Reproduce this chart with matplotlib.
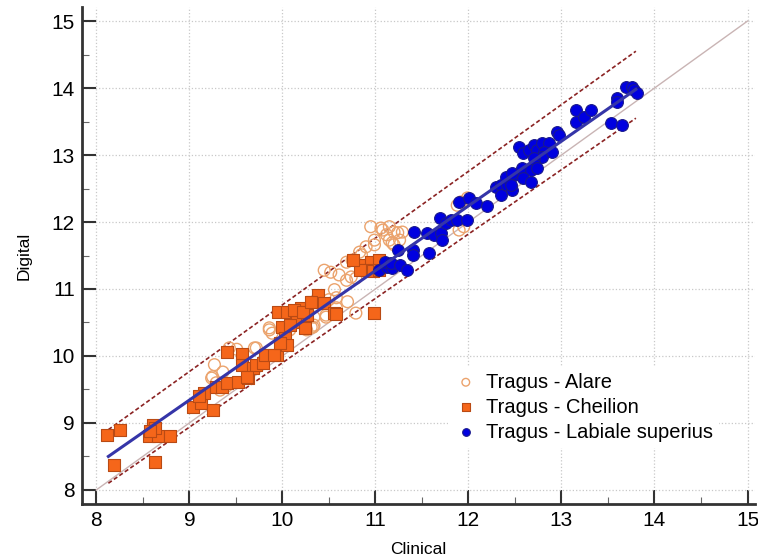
import numpy as np
import matplotlib
matplotlib.use('Agg')
import matplotlib.pyplot as plt

plt.rcParams['font.family'] = ['Liberation Sans', 'DejaVu Sans']

# Tragus - Alare (open circles)
alare_x = [9.25, 9.27, 9.24, 9.33, 9.36, 9.43, 9.29, 9.70, 9.72, 9.86, 9.89, 9.86,
           10.08, 10.18, 10.26, 10.31, 10.34, 10.34, 10.33, 10.47, 10.47, 10.50, 10.38,
           10.58, 10.58, 10.70, 10.79, 10.56, 10.45, 10.52, 10.61, 10.69, 10.74, 10.79,
           10.69, 10.75, 10.83, 10.85, 10.90, 10.99, 10.99, 11.12, 11.18, 11.24, 10.95,
           11.06, 11.15, 11.29, 11.08, 11.20, 11.15, 11.26, 11.20, 11.88, 11.92, 11.99,
           11.90, 11.95, 12.65, 12.70, 9.40, 9.51]
alare_y = [9.69, 9.87, 9.67, 9.49, 9.76, 10.12, 9.60, 10.12, 10.12, 10.42, 10.34, 10.39,
           10.39, 10.64, 10.39, 10.43, 10.58, 10.46, 10.43, 10.61, 10.58, 10.84, 10.87,
           10.72, 10.87, 10.81, 10.64, 10.99, 11.28, 11.25, 11.21, 11.13, 11.18, 11.16,
           11.40, 11.43, 11.55, 11.51, 11.63, 11.73, 11.66, 11.81, 11.69, 11.84, 11.93,
           11.91, 11.93, 11.85, 11.88, 11.85, 11.73, 11.73, 11.66, 12.25, 12.30, 12.36,
           11.88, 11.93, 12.75, 12.82, 9.55, 10.10]

# Tragus - Cheilion (filled squares)
cheilion_x = [8.12, 8.25, 8.19, 8.57, 8.61, 8.66, 8.63, 8.79, 8.63, 8.58,
              9.04, 9.13, 9.16, 9.25, 9.29, 9.35, 9.40, 9.41, 9.52, 9.57, 9.57, 9.63,
              9.68, 9.72, 9.79, 9.81, 9.94, 9.95, 10.00, 10.03, 10.05, 10.05, 10.15,
              10.16, 10.20, 10.24, 10.27, 10.32, 10.38, 10.45, 10.56, 10.58, 10.98,
              10.13, 10.08, 10.22, 10.31, 9.62, 9.91, 9.97, 10.85, 10.95, 11.04, 10.90,
              10.83, 10.97, 10.76, 11.04, 9.10]
cheilion_y = [8.82, 8.90, 8.37, 8.80, 8.97, 8.80, 8.42, 8.80, 8.92, 8.88,
              9.24, 9.30, 9.45, 9.19, 9.54, 9.54, 9.60, 10.06, 9.61, 10.03, 9.87, 9.67,
              9.82, 9.87, 9.90, 10.01, 10.01, 10.66, 10.43, 10.27, 10.16, 10.66, 10.64,
              10.51, 10.72, 10.42, 10.61, 10.81, 10.91, 10.79, 10.64, 10.62, 10.64,
              10.69, 10.46, 10.66, 10.81, 9.69, 10.01, 10.19, 11.36, 11.40, 11.43, 11.28,
              11.28, 11.27, 11.44, 11.28, 9.40]

# Tragus - Labiale superius (filled circles)
labiale_x = [11.04, 11.13, 11.18, 11.10, 11.17, 11.26, 11.34, 11.24, 11.40, 11.40,
             11.42, 11.55, 11.58, 11.63, 11.70, 11.72, 11.69, 11.76, 11.81, 11.88,
             11.99, 11.90, 12.01, 12.08, 12.20, 12.30, 12.35, 12.35, 12.42, 12.47,
             12.49, 12.40, 12.47, 12.46, 12.54, 12.59, 12.65, 12.70, 12.74, 12.79,
             12.87, 12.81, 12.79, 12.70, 12.90, 12.72, 12.58, 12.67, 12.74, 12.59,
             12.67, 12.95, 12.97, 13.16, 13.16, 13.24, 13.32, 13.53, 13.65, 13.60,
             13.60, 13.69, 13.76, 13.78, 13.81]
labiale_y = [11.28, 11.33, 11.31, 11.40, 11.39, 11.36, 11.28, 11.58, 11.58, 11.51,
             11.85, 11.84, 11.54, 11.81, 11.84, 11.73, 12.06, 11.99, 12.03, 12.03,
             12.03, 12.30, 12.36, 12.28, 12.24, 12.52, 12.55, 12.40, 12.55, 12.48,
             12.70, 12.67, 12.73, 12.55, 13.12, 13.03, 13.07, 13.15, 13.07, 13.18,
             13.18, 13.04, 12.97, 12.96, 13.04, 12.85, 12.81, 12.78, 12.81, 12.66,
             12.60, 13.34, 13.30, 13.67, 13.49, 13.57, 13.67, 13.48, 13.45, 13.85,
             13.79, 14.01, 14.01, 13.97, 13.93]

# fitted line and interval lines (values at the ends of the fit range)
fit_x = [8.13, 13.80]
fit_y = [8.50, 13.98]
upper_y = [8.90, 14.55]
lower_y = [8.10, 13.55]
identity = [8, 15]

fig = plt.figure(figsize=(7.58, 5.60), dpi=100)
ax = fig.add_axes([0.108, 0.10, 0.888, 0.8875])

ax.plot(identity, identity, color='#c9b4b4', lw=1, zorder=1)
ax.plot(fit_x, upper_y, color='#8b2323', lw=1.2, ls=(0, (2.5, 1.5)), zorder=1)
ax.plot(fit_x, lower_y, color='#8b2323', lw=1.2, ls=(0, (2.5, 1.5)), zorder=1)

ax.scatter(alare_x, alare_y, s=72, facecolors='none', edgecolors='#eba36d', lw=1,
           label='Tragus - Alare', zorder=2)
ax.scatter(cheilion_x, cheilion_y, s=82, marker='s', color='#f5661a', edgecolors='#b94a14',
           lw=0.8, label='Tragus - Cheilion', zorder=3)
ax.scatter(labiale_x, labiale_y, s=72, color='#0000e0', edgecolors='#1a1a8c', lw=0.8,
           label='Tragus - Labiale superius', zorder=4)

ax.plot(fit_x, fit_y, color='#3535a8', lw=2.2, zorder=5)

ax.set_xlim(7.845, 15.08)
ax.set_ylim(7.79, 15.21)
ax.set_xticks(np.arange(8, 16, 1))
ax.set_yticks(np.arange(8, 16, 1))
ax.set_xticks(np.arange(8.5, 15, 1), minor=True)
ax.set_yticks(np.arange(8.5, 15, 1), minor=True)
ax.grid(True, which='major', color='#c8c8c8', ls=':', lw=0.9)
ax.set_axisbelow(True)

for s in ['top', 'right']:
    ax.spines[s].set_visible(False)
for s in ['left', 'bottom']:
    ax.spines[s].set_linewidth(2)
    ax.spines[s].set_color('#333333')

ax.tick_params(which='major', direction='in', length=10, width=1.5, color='#333333',
               labelsize=15, pad=5)
ax.tick_params(which='minor', direction='in', length=5, width=0.8, color='#666666')

ax.set_xlabel('Clinical', fontsize=12.5, labelpad=9)
ax.set_ylabel('Digital', fontsize=12.5, labelpad=14)

leg = ax.legend(loc='center', bbox_to_anchor=(0.745, 0.195), frameon=True,
                fontsize=14.5, markerscale=0.65, handletextpad=0.4, labelspacing=0.3,
                borderpad=0.3, handlelength=1.2)
leg.get_frame().set_edgecolor('none')
leg.get_frame().set_facecolor('white')
leg.get_frame().set_alpha(1)

plt.savefig('out.png', dpi=100)
